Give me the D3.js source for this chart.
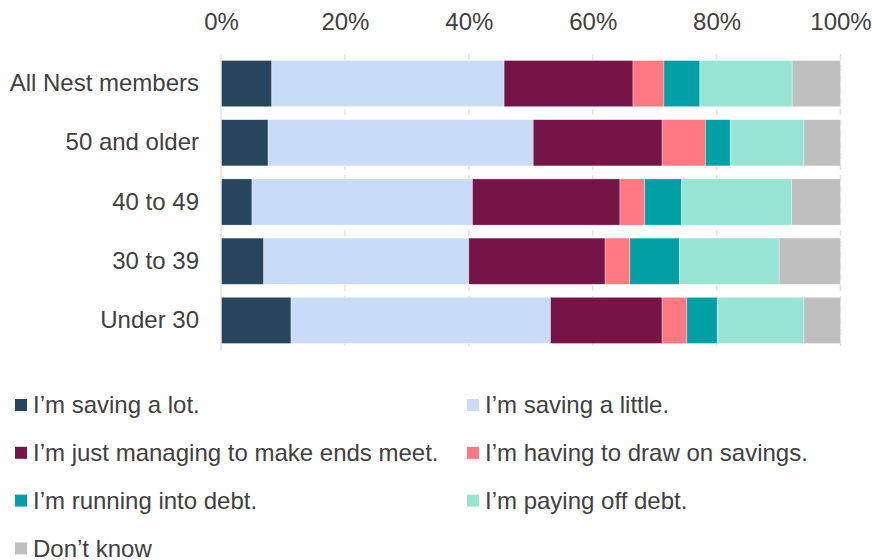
<!DOCTYPE html>
<html>
<head>
<meta charset="utf-8">
<title>Saving or borrowing by age</title>
<script src="https://d3js.org/d3.v7.min.js"></script>
<style>
    body{ margin:0; background:#fff; }
    text{ font-family:"Liberation Sans", Arial, sans-serif; fill:#404040; }
</style>
</head>
<body>
<svg id="chart" width="872" height="560"></svg>
<script>
    // groups, top to bottom
    var groups = ["All Nest members", "50 and older", "40 to 49", "30 to 39", "Under 30"];
    var series = ["I\u2019m saving a lot.", "I\u2019m saving a little.",
        "I\u2019m just managing to make ends meet.", "I\u2019m having to draw on savings.",
        "I\u2019m running into debt.", "I\u2019m paying off debt.", "Don\u2019t know"];
    var colors = ["#28455e", "#c9dcf7", "#761447", "#ff7882", "#00a0a6", "#98e4d4", "#bfbfbf"];

    // percent of each group, one array per answer
    var savingLot    = [8.2, 7.6, 5.0, 6.9, 11.3];
    var savingLittle = [37.5, 42.8, 35.6, 33.1, 41.9];
    var justManaging = [20.8, 20.8, 23.8, 22.0, 18.0];
    var drawSavings  = [5.0, 7.0, 4.0, 4.0, 4.0];
    var intoDebt     = [5.8, 4.0, 5.9, 8.0, 4.9];
    var payingDebt   = [14.9, 11.9, 17.8, 16.1, 14.0];
    var dontKnow     = [7.8, 5.9, 7.9, 9.9, 5.9];

    var ticks = [0, 20, 40, 60, 80, 100];

    var values = [savingLot, savingLittle, justManaging, drawSavings, intoDebt, payingDebt, dontKnow];
    var table = groups.map(function(g, i){
        var row = {group: g};
        series.forEach(function(s, j){ row[s] = values[j][i]; });
        return row;
    });
    var stacked = d3.stack().keys(series)(table);

    var svg = d3.select("#chart");
    var x = d3.scaleLinear().domain([0, 100]).range([221, 840.5]);
    var y = d3.scaleBand().domain(groups).range([54, 350]).paddingInner(0.22).paddingOuter(0.11);

    // gridlines
    svg.append("g").selectAll("line")
        .data(ticks.slice(1))
        .enter().append("line")
        .attr("x1", function(d){ return x(d); })
        .attr("x2", function(d){ return x(d); })
        .attr("y1", 54).attr("y2", 350)
        .attr("stroke", "#e6e4dc")
        .attr("stroke-width", 1.5)
        .attr("stroke-dasharray", "6,5");

    // bars
    svg.append("g").selectAll("g")
        .data(stacked)
        .enter().append("g")
        .attr("fill", function(d, i){ return colors[i]; })
        .selectAll("rect")
        .data(function(d){ return d; })
        .enter().append("rect")
        .attr("x", function(d){ return x(d[0]); })
        .attr("width", function(d){ return x(d[1]) - x(d[0]); })
        .attr("y", function(d){ return y(d.data.group); })
        .attr("height", y.bandwidth())
        .attr("stroke", "#fff")
        .attr("stroke-width", 0.6)
        .attr("stroke-opacity", 0.5);

    // axis line at 0
    svg.append("line")
        .attr("x1", x(0)).attr("x2", x(0))
        .attr("y1", 54).attr("y2", 350)
        .attr("stroke", "#e6e4dc").attr("stroke-width", 1.5);

    // top tick labels
    var xAxis = d3.axisTop(x).tickValues(ticks).tickSize(0).tickPadding(0)
        .tickFormat(function(d){ return d + "%"; });
    var gx = svg.append("g").attr("transform", "translate(0,30)").call(xAxis);
    gx.select(".domain").remove();
    gx.selectAll("text").attr("font-size", 24).attr("fill", "#404040")
        .attr("font-family", "Liberation Sans, Arial, sans-serif");

    // group labels
    var yAxis = d3.axisLeft(y).tickSize(0).tickPadding(0);
    var gy = svg.append("g").attr("transform", "translate(199,0)").call(yAxis);
    gy.select(".domain").remove();
    gy.selectAll("text").attr("font-size", 24).attr("fill", "#404040")
        .attr("font-family", "Liberation Sans, Arial, sans-serif");

    // legend, two columns
    var legend = svg.append("g").selectAll("g")
        .data(series)
        .enter().append("g")
        .attr("transform", function(d, i){
            return "translate(" + (i % 2 ? 467 : 15) + "," + (405 + 47.8 * Math.floor(i / 2)) + ")";
        });
    legend.append("rect")
        .attr("x", 0).attr("y", -6).attr("width", 12).attr("height", 12)
        .attr("fill", function(d, i){ return colors[i]; });
    legend.append("text")
        .attr("x", 18).attr("y", 0).attr("dy", "0.35em")
        .attr("font-size", 24)
        .text(function(d){ return d; });
</script>
</body>
</html>
